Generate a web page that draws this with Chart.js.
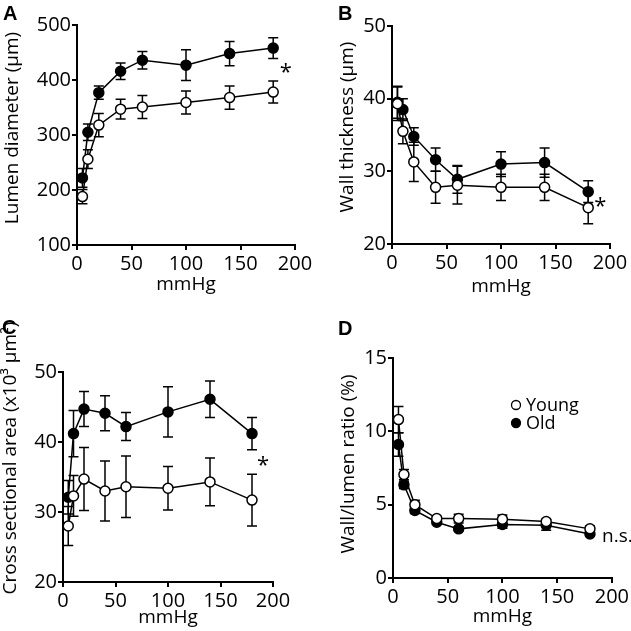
<!DOCTYPE html>
<html><head><meta charset="utf-8">
<script src="https://cdn.jsdelivr.net/npm/chart.js@4/dist/chart.umd.min.js"></script>
<style>
html,body{margin:0;padding:0;background:#fff}
#wrap{position:relative;width:631px;height:631px;background:#fff}
canvas{position:absolute}
</style></head>
<body>
<div id="wrap">
<canvas id="cA" width="315" height="315" style="left:0;top:0"></canvas>
<canvas id="cB" width="316" height="315" style="left:315px;top:0"></canvas>
<canvas id="cC" width="315" height="316" style="left:0;top:315px"></canvas>
<canvas id="cD" width="316" height="316" style="left:315px;top:315px"></canvas>
</div>
<script>
// ---- data ----
const pressure = [5, 10, 20, 40, 60, 100, 140, 180];
const xTicks = [0, 50, 100, 150, 200];
const seriesNames = ['Young', 'Old'];

const lumenYoung    = [188, 256, 318, 347, 351, 359, 368, 378];
const lumenYoungErr = [13, 17, 21, 18, 21, 21, 21, 20];
const lumenOld      = [222, 305, 377, 416, 436, 427, 448, 458];
const lumenOldErr   = [17, 15, 12, 15, 16, 28, 22, 19];
const lumenTicks    = [100, 200, 300, 400, 500];

const wallYoung    = [39.3, 35.5, 31.3, 27.8, 28.1, 27.8, 27.8, 25.0];
const wallYoungErr = [2.3, 1.7, 2.7, 2.2, 2.6, 1.8, 1.8, 2.2];
const wallOld      = [39.5, 38.5, 34.8, 31.6, 28.9, 31.0, 31.2, 27.2];
const wallOldErr   = [2.2, 1.5, 1.2, 1.6, 1.9, 1.7, 2.0, 1.5];
const wallTicks    = [20, 30, 40, 50];

const csaYoung    = [28.0, 32.3, 34.7, 33.0, 33.6, 33.4, 34.3, 31.7];
const csaYoungErr = [2.8, 2.9, 4.5, 4.3, 4.4, 3.1, 3.4, 3.7];
const csaOld      = [32.1, 41.2, 44.7, 44.1, 42.2, 44.3, 46.1, 41.2];
const csaOldErr   = [2.4, 3.3, 2.5, 2.5, 2.0, 3.6, 2.6, 2.3];
const csaTicks    = [20, 30, 40, 50];

const ratioYoung    = [10.8, 7.05, 5.0, 4.05, 4.05, 4.0, 3.85, 3.35];
const ratioYoungErr = [0.9, 0.35, 0.3, 0.15, 0.3, 0.3, 0.15, 0.2];
const ratioOld      = [9.1, 6.35, 4.6, 3.8, 3.35, 3.65, 3.6, 3.0];
const ratioOldErr   = [0.8, 0.25, 0.2, 0.15, 0.15, 0.25, 0.35, 0.15];
const ratioTicks    = [0, 5, 10, 15];

const annotA = {text: '*', x: 191.5, y: 413, align: 'center'};
const annotB = {text: '*', x: 191, y: 25.1, align: 'center'};
const annotC = {text: '*', x: 190.5, y: 36.6, align: 'center'};
const annotD = {text: 'n.s.', x: 191, y: 2.8, align: 'left'};

// ---- helpers ----
const FONT = "'Open Sans', 'DejaVu Sans', sans-serif";

const errorBars = {
  id: 'errorBars',
  beforeDatasetsDraw(chart) {
    const ctx = chart.ctx, xs = chart.scales.x, ys = chart.scales.y;
    ctx.save();
    ctx.strokeStyle = '#000';
    ctx.lineWidth = 1.5;
    const cap = 5;
    chart.data.datasets.slice().reverse().forEach(ds => {
      ds.data.forEach((pt, i) => {
        const e = ds.errors[i];
        const px = xs.getPixelForValue(pt.x);
        const y1 = ys.getPixelForValue(pt.y + e);
        const y2 = ys.getPixelForValue(pt.y - e);
        ctx.beginPath();
        ctx.moveTo(px, y1); ctx.lineTo(px, y2);
        ctx.moveTo(px - cap, y1); ctx.lineTo(px + cap, y1);
        ctx.moveTo(px - cap, y2); ctx.lineTo(px + cap, y2);
        ctx.stroke();
      });
    });
    ctx.restore();
  }
};

const extras = {
  id: 'extras',
  afterDraw(chart, args, opts) {
    const ctx = chart.ctx, xs = chart.scales.x, ys = chart.scales.y;
    ctx.save();
    ctx.fillStyle = '#000';
    // panel letter
    ctx.font = "bold 20px 'Liberation Sans', Arial, sans-serif";
    ctx.textBaseline = 'alphabetic';
    ctx.textAlign = 'left';
    ctx.fillText(opts.label, opts.labelX, opts.labelY);
    // y axis title
    ctx.save();
    ctx.font = "19px " + FONT;
    ctx.textAlign = 'center';
    ctx.textBaseline = 'middle';
    ctx.translate(opts.yTitleX, opts.yTitleY);
    ctx.rotate(-Math.PI / 2);
    ctx.fillText(opts.yTitle, 0, 0);
    ctx.restore();
    // annotation
    const a = opts.annot;
    ctx.font = a.text === '*' ? "22px " + FONT : "19px " + FONT;
    ctx.textBaseline = 'middle';
    ctx.textAlign = a.align;
    ctx.fillText(a.text, xs.getPixelForValue(a.x), ys.getPixelForValue(a.y));
    // legend
    if (opts.legend) {
      ctx.font = "18px " + FONT;
      ctx.textAlign = 'left';
      const ds = chart.data.datasets;
      const lx = opts.legend.x, ly = opts.legend.y, gap = 18;
      ds.forEach((d, i) => {
        const cy = ly + i * gap;
        ctx.beginPath();
        ctx.arc(lx, cy, 4.5, 0, Math.PI * 2);
        ctx.fillStyle = d.pointBackgroundColor;
        ctx.fill();
        ctx.lineWidth = 1.3;
        ctx.strokeStyle = '#000';
        ctx.stroke();
        ctx.fillStyle = '#000';
        ctx.textBaseline = 'middle';
        ctx.fillText(d.label, lx + 10, cy + 1);
      });
    }
    ctx.restore();
  }
};

function makePanel(id, p) {
  const cv = document.getElementById(id);
  const W = cv.width, H = cv.height;
  const mk = (label, vals, errs, fill) => ({
    label,
    data: pressure.map((x, i) => ({x, y: vals[i]})),
    errors: errs,
    borderColor: '#000',
    borderWidth: 1.5,
    pointRadius: 5,
    pointBorderWidth: 1.5,
    pointBorderColor: '#000',
    pointBackgroundColor: fill,
    backgroundColor: fill,
    tension: 0,
    fill: false
  });
  const axisCommon = {
    border: {display: true, color: '#000', width: 2},
    grid: {drawOnChartArea: false, drawTicks: true, tickLength: 5, color: '#000', lineWidth: 2},
  };
  return new Chart(cv, {
    type: 'line',
    data: {
      datasets: [
        mk(seriesNames[0], p.young, p.youngErr, '#fff'),
        mk(seriesNames[1], p.old, p.oldErr, '#000')
      ]
    },
    options: {
      responsive: false,
      animation: false,
      devicePixelRatio: 1,
      layout: {padding: {top: p.area.t, right: W - p.area.r, left: 0, bottom: 0}},
      plugins: {
        legend: {display: false},
        tooltip: {enabled: false},
        extras: {label: p.label, labelX: p.labelX, labelY: p.labelY, annot: p.annot, legend: p.legend,
                 yTitle: p.yTitle, yTitleX: p.yTitleX, yTitleY: p.yTitleY}
      },
      scales: {
        x: Object.assign({}, axisCommon, {
          type: 'linear', min: 0, max: 200,
          afterBuildTicks: s => { s.ticks = xTicks.map(v => ({value: v})); },
          ticks: {color: '#000', font: {family: FONT, size: 20}, padding: 2, maxRotation: 0},
          title: {display: true, text: 'mmHg', color: '#000', font: {family: FONT, size: 19}, padding: {top: 0, bottom: p.xTitlePad}},
          afterFit: s => { s.height = H - p.area.b; }
        }),
        y: Object.assign({}, axisCommon, {
          type: 'linear', min: p.ticks[0], max: p.ticks[p.ticks.length - 1],
          afterBuildTicks: s => { s.ticks = p.ticks.map(v => ({value: v})); },
          ticks: {color: '#000', font: {family: FONT, size: 20}, padding: 1},
          title: {display: false},
          afterFit: s => { s.width = p.area.l; }
        })
      }
    },
    plugins: [errorBars, extras]
  });
}

makePanel('cA', {
  young: lumenYoung, youngErr: lumenYoungErr, old: lumenOld, oldErr: lumenOldErr,
  ticks: lumenTicks, yTitle: 'Lumen diameter (μm)', yTitleX: 13, yTitleY: 128,
  area: {l: 77, t: 25, r: 295, b: 245}, xTitlePad: 19,
  label: 'A', labelX: 3, labelY: 20, annot: annotA
});
makePanel('cB', {
  young: wallYoung, youngErr: wallYoungErr, old: wallOld, oldErr: wallOldErr,
  ticks: wallTicks, yTitle: 'Wall thickness (μm)', yTitleX: 33, yTitleY: 127,
  area: {l: 77, t: 26, r: 295, b: 244}, xTitlePad: 17,
  label: 'B', labelX: 23, labelY: 20, annot: annotB
});
makePanel('cC', {
  young: csaYoung, youngErr: csaYoungErr, old: csaOld, oldErr: csaOldErr,
  ticks: csaTicks, yTitle: 'Cross sectional area (x10³ μm²)', yTitleX: 11, yTitleY: 143,
  area: {l: 63, t: 57, r: 273, b: 267}, xTitlePad: 2,
  label: 'C', labelX: 2, labelY: 19, annot: annotC
});
makePanel('cD', {
  young: ratioYoung, youngErr: ratioYoungErr, old: ratioOld, oldErr: ratioOldErr,
  ticks: ratioTicks, yTitle: 'Wall/lumen ratio (%)', yTitleX: 34, yTitleY: 149,
  area: {l: 78, t: 43, r: 297, b: 263}, xTitlePad: 3,
  label: 'D', labelX: 23, labelY: 20, annot: annotD,
  legend: {x: 201, y: 90}
});
</script>
</body></html>
